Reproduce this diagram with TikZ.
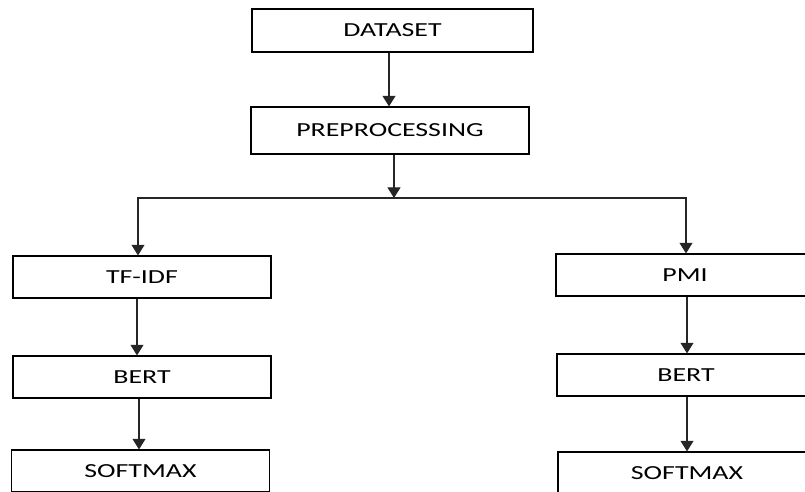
\documentclass[tikz,border=0pt]{standalone}
\usepackage{fontspec}
\setmainfont{Carlito}
\usepackage{graphicx}
\usepackage{tikz}
\usetikzlibrary{arrows.meta,positioning,calc}
\newcommand{\wide}[1]{\scalebox{1.4}[1]{#1}}
\tikzset{
  stage/.style={draw=black, line width=1pt, fill=white, minimum width=7.74cm, minimum height=1.26cm, inner sep=0pt, align=center, font=\fontsize{17}{20}\selectfont},
  flow/.style={draw=black!85, line width=0.9pt},
  flowarrow/.style={flow, -{Triangle[width=11pt,length=9pt]}}
}

\begin{document}
\begin{tikzpicture}[x={(0.03cm,0)}, y={(0,-0.03cm)}]
  % Page frame
  \useasboundingbox (0,0) rectangle (805,491);
  \clip (0,0) rectangle (805,491);
  % Top stages
  \node[stage, minimum width=8.43cm, minimum height=1.29cm] (dataset) at (392.5,30.5) {\wide{DATASET}};
  \node[stage, minimum width=8.34cm, minimum height=1.41cm] (prep) at (390,130.5) {\wide{PREPROCESSING}};
  \coordinate (d1) at ($(dataset.south)+(-3.5,0)$);
  \draw[flowarrow] (d1) -- (d1 |- prep.north);
  % Split point
  \coordinate (split) at (394,198);
  \draw[flowarrow] (split |- prep.south) -- (split);
  % Left branch
  \node[stage] (tfidf) at (142,277) {\wide{TF-IDF}};
  \node[stage] (bertl) at (142,377) {\wide{BERT}};
  \node[stage] (softl) at (140.5,471) {\wide{SOFTMAX}};
  % Right branch
  \node[stage] (pmi) at (685,275) {\wide{PMI}};
  \node[stage] (bertr) at (686,375) {\wide{BERT}};
  \node[stage] (softr) at (687,473) {\wide{SOFTMAX}};
  % Branch lines
  \coordinate (l1) at ($(tfidf.north)+(-4,0)$);
  \coordinate (r1) at ($(pmi.north)+(1,0)$);
  \draw[flowarrow] (split) -| (l1);
  \draw[flowarrow] (split) -| (r1);
  \coordinate (l2) at ($(tfidf.south)+(-5,0)$);
  \coordinate (l3) at ($(bertl.south)+(-3,0)$);
  \draw[flowarrow] (l2) -- (l2 |- bertl.north);
  \draw[flowarrow] (l3) -- (l3 |- softl.north);
  \coordinate (r2) at ($(pmi.south)+(2,0)$);
  \coordinate (r3) at ($(bertr.south)+(1,0)$);
  \draw[flowarrow] (r2) -- (r2 |- bertr.north);
  \draw[flowarrow] (r3) -- (r3 |- softr.north);
\end{tikzpicture}
\end{document}
